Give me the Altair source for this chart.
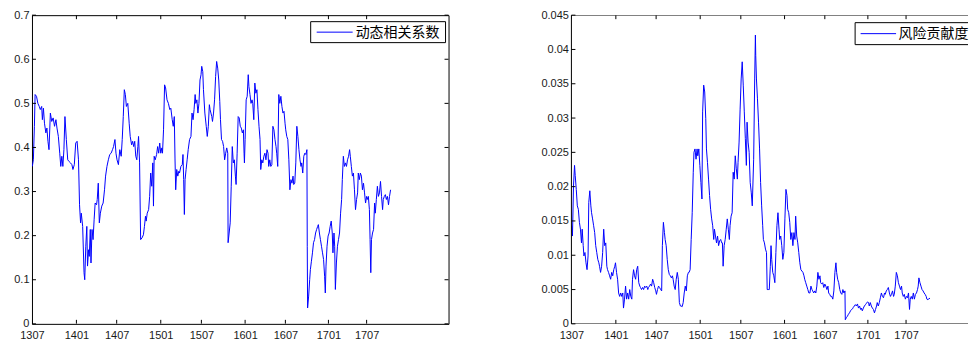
import altair as alt
import pandas as pd

# ---------------- data ----------------
SERIES_NAMES = ["动态相关系数", "风险贡献度"]
TICK_DAYS = [0, 128, 244, 371, 488, 614, 730, 854, 964]
TICK_LABELS = ["1307", "1401", "1407", "1501", "1507", "1601", "1607", "1701", "1707"]
X_MAX = 1200

LEFT_Y_TICKS = [0, 0.1, 0.2, 0.3, 0.4, 0.5, 0.6, 0.7]
RIGHT_Y_TICKS = [0, 0.005, 0.01, 0.015, 0.02, 0.025, 0.03, 0.035, 0.04, 0.045]

left_days = [1, 4, 7, 9, 13, 17, 21, 24, 28, 30, 33, 36, 40, 43, 46, 49, 53, 57, 61, 65, 69, 72, 76, 80, 83, 86, 89, 92, 95, 99,
             103, 107, 111, 115, 118, 122, 126, 130, 134, 137, 140, 142, 146, 150, 152, 155, 158, 160, 163, 165, 168, 170, 173, 176, 179, 182, 186, 188, 191, 194,
             197, 201, 205, 209, 212, 216, 220, 224, 228, 232, 235, 239, 242, 245, 249, 253, 257, 260, 263, 266, 269, 272, 276, 280, 283, 287, 290, 293, 296, 299,
             302, 305, 307, 310, 313, 317, 321, 324, 327, 329, 332, 336, 339, 342, 345, 348, 350, 352, 355, 359, 362, 365, 368, 371, 374, 376, 379, 382, 385, 389,
             393, 397, 400, 404, 407, 410, 412, 414, 417, 420, 423, 425, 429, 433, 435, 437, 439, 441, 444, 447, 450, 454, 458, 461, 464, 467, 470, 472, 475, 478,
             481, 484, 487, 489, 492, 494, 498, 502, 505, 508, 511,
             513, 518, 520, 523, 526, 529, 532, 535, 538, 541, 543, 546, 549, 552, 555, 558, 561, 564, 565, 568, 571, 574, 577, 580, 583, 586, 588, 591, 594, 597,
             600, 603, 606, 609, 611, 612, 614, 617, 620, 623, 625, 628, 631, 634, 636, 639, 642, 645, 648, 651, 654, 657, 659, 662, 665, 668, 671, 674, 677, 680,
             682, 685, 688, 691, 694, 697, 700, 703, 705, 708, 711, 714, 717, 720, 723, 726, 729, 731, 734, 737, 740, 743, 746, 749, 752, 754, 757, 760, 763, 766,
             769, 772, 775, 777, 780, 783, 786, 789, 792, 793, 794, 797, 800, 802, 805, 808, 811, 814, 817, 820, 823, 825, 828, 831, 834, 837, 840, 843, 845, 847,
             850, 853, 856, 859, 862, 865, 867, 870, 872, 874, 877, 880, 883, 886, 889, 892, 894, 897, 900, 903, 906, 909, 912, 915, 917, 920, 923, 926, 929, 932,
             935, 938, 940, 943, 946, 949, 952, 955, 958, 961, 964, 966, 969, 972, 974, 976, 978, 981, 984, 987, 989, 992, 995, 998, 1001, 1004, 1007, 1010, 1012, 1015,
             1018, 1021, 1024, 1027, 1030, 1033]
left_vals = [0.357, 0.372, 0.448, 0.520, 0.516, 0.500, 0.493, 0.486, 0.493, 0.463, 0.489, 0.455, 0.433, 0.444, 0.414, 0.395, 0.478, 0.459, 0.467, 0.448, 0.463, 0.444, 0.425, 0.387, 0.357, 0.380, 0.357, 0.395, 0.470, 0.418,
             0.372, 0.368, 0.365, 0.361, 0.350, 0.361, 0.410, 0.414, 0.372, 0.270, 0.229, 0.251, 0.221, 0.116, 0.100, 0.176, 0.221, 0.131, 0.168, 0.153, 0.214, 0.138, 0.214, 0.191, 0.236, 0.274, 0.270, 0.282, 0.319, 0.229,
             0.251, 0.267, 0.274, 0.304, 0.335, 0.357, 0.372, 0.384, 0.387, 0.395, 0.402, 0.418, 0.387, 0.372, 0.361, 0.395, 0.380, 0.418, 0.470, 0.531, 0.520, 0.493, 0.500, 0.455, 0.425, 0.406, 0.414, 0.402, 0.414, 0.380,
             0.372, 0.402, 0.425, 0.365, 0.191, 0.195, 0.202, 0.221, 0.244, 0.233, 0.251, 0.259, 0.289, 0.342, 0.312, 0.365, 0.267, 0.380, 0.372, 0.384, 0.402, 0.387, 0.410, 0.387, 0.399, 0.387, 0.440, 0.542, 0.535, 0.508,
             0.500, 0.486, 0.489, 0.463, 0.448, 0.470, 0.376, 0.304, 0.350, 0.335, 0.346, 0.342, 0.357, 0.361, 0.384, 0.327, 0.248, 0.327, 0.350, 0.372, 0.395, 0.418, 0.425, 0.478, 0.463, 0.486, 0.520, 0.500, 0.508, 0.478,
             0.500, 0.553, 0.565, 0.584, 0.572, 0.531, 0.478, 0.448, 0.425, 0.448, 0.497,
             0.486, 0.470, 0.459, 0.478, 0.508, 0.561, 0.595, 0.580, 0.553, 0.504, 0.463, 0.418, 0.414, 0.402, 0.372, 0.387, 0.399, 0.387, 0.184, 0.206, 0.229, 0.312, 0.402, 0.365, 0.372, 0.335, 0.316, 0.387, 0.470, 0.467,
             0.448, 0.444, 0.433, 0.440, 0.387, 0.365, 0.418, 0.508, 0.516, 0.565, 0.538, 0.520, 0.500, 0.508, 0.500, 0.463, 0.546, 0.523, 0.531, 0.486, 0.448, 0.418, 0.350, 0.372, 0.365, 0.380, 0.387, 0.372, 0.395, 0.387,
             0.357, 0.372, 0.357, 0.361, 0.448, 0.440, 0.418, 0.402, 0.387, 0.357, 0.520, 0.500, 0.516, 0.493, 0.478, 0.482, 0.455, 0.440, 0.425, 0.418, 0.372, 0.304, 0.327, 0.319, 0.335, 0.316, 0.319, 0.365, 0.448, 0.425,
             0.395, 0.372, 0.357, 0.365, 0.342, 0.380, 0.387, 0.384, 0.395, 0.176, 0.036, 0.063, 0.100, 0.123, 0.142, 0.161, 0.184, 0.191, 0.206, 0.214, 0.221, 0.225, 0.206, 0.191, 0.176, 0.161, 0.146, 0.108, 0.070, 0.131,
             0.176, 0.199, 0.206, 0.221, 0.233, 0.206, 0.161, 0.206, 0.176, 0.078, 0.138, 0.176, 0.191, 0.206, 0.251, 0.282, 0.327, 0.380, 0.357, 0.365, 0.357, 0.372, 0.380, 0.395, 0.380, 0.357, 0.335, 0.342, 0.304, 0.259,
             0.282, 0.297, 0.342, 0.327, 0.342, 0.335, 0.304, 0.319, 0.297, 0.274, 0.289, 0.282, 0.289, 0.259, 0.191, 0.116, 0.191, 0.206, 0.214, 0.274, 0.251, 0.282, 0.312, 0.289, 0.297, 0.323, 0.289, 0.259, 0.282, 0.289,
             0.293, 0.282, 0.289, 0.270, 0.289, 0.304]

right_days = [1, 3, 6, 9, 11, 14, 17, 20, 23, 26, 29, 31, 34, 36, 39, 42, 45, 48, 50, 53, 56, 58, 61, 64, 67, 70, 73, 76, 79, 81,
              84, 87, 90, 93, 96, 99, 102, 104, 107, 110, 113, 116, 119, 122, 125, 127, 130, 133, 136, 139, 142, 145, 148, 150, 153, 156, 159, 162, 165, 168,
              171, 174, 176, 179, 182, 185, 188, 191, 194, 197, 199, 202, 205, 208, 211, 214, 217, 220, 222, 225, 228, 231, 234, 237, 240, 243, 245, 248, 251, 254,
              257, 260, 262, 265, 268, 270, 273, 276, 279, 282, 285, 288, 291, 293, 296, 299, 302, 305, 308, 311, 314, 316, 319, 322, 325, 328, 331, 334, 337, 339,
              342, 345, 348, 351, 353, 356, 359, 362, 364, 367, 370, 373, 376, 378, 381, 384, 387, 389, 392, 395, 398, 401, 404, 407, 410, 412, 415, 418, 421, 424,
              427, 430, 433, 435, 437, 440, 443, 446, 449, 452, 455, 457, 460, 463, 466, 469, 472, 475, 478, 480, 483, 486, 489, 492, 495, 498, 501, 504, 506, 509,
              512, 515, 518, 521,
              525, 528, 530, 531, 533, 536, 539, 542, 545, 548, 551, 553, 556, 559, 562, 564, 567, 570, 573, 575, 577, 580, 583, 586, 589, 592, 595, 598, 600, 603,
              606, 609, 612, 615, 618, 621, 623, 626, 629, 632, 635, 638, 641, 644, 646, 649, 652, 655, 658, 661, 664, 667, 670, 672, 675, 678, 681, 684, 687, 690,
              693, 695, 698, 701, 704, 707, 710, 713, 716, 718, 721, 724, 727, 730, 733, 736, 739, 741, 744, 747, 750, 753, 756, 759, 762, 764, 767, 770, 773, 776,
              779, 782, 785, 788, 789, 792, 795, 798, 801, 804, 807, 810, 812, 815, 818, 821, 824, 827, 830, 833, 835, 838, 841, 844, 847, 850, 853, 856, 858, 861,
              864, 867, 870, 873, 876, 879, 881, 884, 887, 890, 893, 896, 899, 902, 904, 907, 910, 913, 916, 919, 922, 925, 928, 930, 933, 936, 939, 942, 945, 948,
              951, 953, 956, 959, 962, 965, 968, 971, 974, 976, 979, 982, 985, 988, 991, 994, 997, 999, 1001, 1004, 1007, 1010, 1013, 1016, 1019, 1022, 1024, 1027, 1030, 1033]
right_vals = [0.0143, 0.0128, 0.0201, 0.0231, 0.0216, 0.0196, 0.0172, 0.0167, 0.0148, 0.0138, 0.0118, 0.0138, 0.0114, 0.0099, 0.0104, 0.0089, 0.0079, 0.0099, 0.0177, 0.0194, 0.0172, 0.0162, 0.0153, 0.0143, 0.0133, 0.0114, 0.0104, 0.0094, 0.0089, 0.0084,
              0.0075, 0.0084, 0.0104, 0.0138, 0.0114, 0.0118, 0.0084, 0.0079, 0.0075, 0.0070, 0.0065, 0.0075, 0.0070, 0.0079, 0.0084, 0.0089, 0.0075, 0.0065, 0.0045, 0.0040, 0.0045, 0.0040, 0.0045, 0.0023, 0.0036, 0.0055, 0.0036, 0.0045, 0.0036, 0.0050,
              0.0040, 0.0036, 0.0065, 0.0079, 0.0070, 0.0065, 0.0079, 0.0084, 0.0060, 0.0055, 0.0053, 0.0050, 0.0053, 0.0050, 0.0055, 0.0053, 0.0055, 0.0050, 0.0053, 0.0055, 0.0058, 0.0055, 0.0065, 0.0060, 0.0053, 0.0048, 0.0043, 0.0050, 0.0055, 0.0053,
              0.0050, 0.0048, 0.0114, 0.0148, 0.0133, 0.0123, 0.0114, 0.0094, 0.0079, 0.0072, 0.0070, 0.0067, 0.0070, 0.0065, 0.0055, 0.0050, 0.0065, 0.0075, 0.0065, 0.0031, 0.0026, 0.0026, 0.0025, 0.0031, 0.0045, 0.0055, 0.0048, 0.0070, 0.0075, 0.0075,
              0.0079, 0.0123, 0.0162, 0.0221, 0.0250, 0.0255, 0.0240, 0.0255, 0.0245, 0.0255, 0.0231, 0.0206, 0.0182, 0.0309, 0.0348, 0.0338, 0.0299, 0.0255, 0.0235, 0.0211, 0.0187, 0.0167, 0.0153, 0.0143, 0.0123, 0.0138, 0.0128, 0.0118, 0.0128, 0.0114,
              0.0121, 0.0123, 0.0118, 0.0118, 0.0084, 0.0114, 0.0123, 0.0138, 0.0153, 0.0138, 0.0123, 0.0143, 0.0157, 0.0162, 0.0221, 0.0211, 0.0245, 0.0226, 0.0211, 0.0235, 0.0265, 0.0313, 0.0357, 0.0382, 0.0348, 0.0309, 0.0270, 0.0231, 0.0294, 0.0265,
              0.0250, 0.0206, 0.0192, 0.0172,
              0.0240, 0.0357, 0.0421, 0.0391, 0.0357, 0.0328, 0.0294, 0.0255, 0.0206, 0.0172, 0.0143, 0.0123, 0.0118, 0.0109, 0.0104, 0.0050, 0.0050, 0.0050, 0.0084, 0.0114, 0.0094, 0.0075, 0.0070, 0.0060, 0.0104, 0.0143, 0.0162, 0.0138, 0.0123, 0.0128,
              0.0114, 0.0094, 0.0104, 0.0153, 0.0196, 0.0187, 0.0167, 0.0162, 0.0148, 0.0123, 0.0133, 0.0114, 0.0133, 0.0123, 0.0157, 0.0128, 0.0118, 0.0104, 0.0089, 0.0079, 0.0077, 0.0075, 0.0070, 0.0065, 0.0060, 0.0055, 0.0050, 0.0045, 0.0045, 0.0055,
              0.0050, 0.0048, 0.0045, 0.0048, 0.0045, 0.0055, 0.0075, 0.0065, 0.0070, 0.0060, 0.0058, 0.0060, 0.0053, 0.0058, 0.0055, 0.0050, 0.0055, 0.0045, 0.0043, 0.0040, 0.0040, 0.0036, 0.0048, 0.0075, 0.0089, 0.0075, 0.0065, 0.0060, 0.0050, 0.0045,
              0.0043, 0.0050, 0.0045, 0.0048, 0.0006, 0.0009, 0.0011, 0.0014, 0.0016, 0.0019, 0.0021, 0.0022, 0.0024, 0.0026, 0.0028, 0.0026, 0.0029, 0.0023, 0.0026, 0.0021, 0.0023, 0.0019, 0.0023, 0.0026, 0.0028, 0.0030, 0.0032, 0.0031, 0.0026, 0.0031,
              0.0026, 0.0023, 0.0021, 0.0016, 0.0021, 0.0026, 0.0031, 0.0026, 0.0031, 0.0038, 0.0045, 0.0040, 0.0038, 0.0045, 0.0043, 0.0048, 0.0050, 0.0053, 0.0045, 0.0040, 0.0043, 0.0048, 0.0040, 0.0043, 0.0055, 0.0075, 0.0070, 0.0060, 0.0055, 0.0050,
              0.0055, 0.0045, 0.0040, 0.0043, 0.0036, 0.0040, 0.0038, 0.0045, 0.0021, 0.0036, 0.0040, 0.0036, 0.0045, 0.0036, 0.0043, 0.0045, 0.0050, 0.0055, 0.0067, 0.0060, 0.0055, 0.0050, 0.0048, 0.0045, 0.0043, 0.0040, 0.0036, 0.0035, 0.0037, 0.0037]

# ---------------- layout / style ----------------
W, H = 417, 309
RIGHT_W = 397                      # right panel is cut by the window edge
LINE_COLOR = "#0000ff"
TICK_LEN = 4
LABEL_FONT = "Liberation Sans"
CJK_FONT = "Noto Sans CJK SC"

labels_js = "[" + ",".join("'%s'" % s for s in TICK_LABELS) + "]"
ticks_js = "[" + ",".join(str(t) for t in TICK_DAYS) + "]"
x_label_expr = "%s[indexof(%s, datum.value)]" % (labels_js, ticks_js)


def panel(days, vals, y_ticks, name, width, x_max, y_extent, legend, open_right):
    x_scale = alt.Scale(domain=[0, x_max], nice=False, zero=False)
    y_scale = alt.Scale(domain=[0, y_ticks[-1]], nice=False, zero=False)
    x_axis = alt.Axis(values=TICK_DAYS, labelExpr=x_label_expr, title=None,
                      labelFlush=False, labelOverlap=False, labelPadding=6,
                      tickSize=0, ticks=False, domain=False, grid=False)
    y_axis = alt.Axis(values=y_ticks, format="~g", title=None,
                      labelPadding=3, tickSize=0, ticks=False, domain=False, grid=False,
                      labelFlush=False, labelOverlap=False,
                      minExtent=y_extent, maxExtent=y_extent)
    xe = alt.X("day:Q", scale=x_scale, axis=x_axis)
    ye = alt.Y("val:Q", scale=y_scale, axis=y_axis)

    df = pd.DataFrame({"day": days, "val": vals})
    layers = [alt.Chart(df).mark_line(color=LINE_COLOR, strokeWidth=1, clip=True).encode(x=xe, y=ye)]

    xt = pd.DataFrame({"day": TICK_DAYS})
    yt = pd.DataFrame({"val": y_ticks})
    tick_style = dict(color="black", strokeWidth=1)
    layers.append(alt.Chart(xt).mark_rule(clip=True, **tick_style).encode(
        x=xe, y=alt.value(H), y2=alt.value(H - TICK_LEN)))
    layers.append(alt.Chart(xt).mark_rule(clip=True, **tick_style).encode(
        x=xe, y=alt.value(0), y2=alt.value(TICK_LEN)))
    layers.append(alt.Chart(yt).mark_rule(**tick_style).encode(
        y=ye, x=alt.value(0), x2=alt.value(TICK_LEN)))

    ld = pd.DataFrame({"name": [name]})
    if open_right:
        # frame drawn by hand: top, bottom, left (right edge lies outside the window)
        layers.append(alt.Chart(ld).mark_rule(clip=True, **tick_style).encode(
            x=alt.value(0), x2=alt.value(width), y=alt.value(0)))
        layers.append(alt.Chart(ld).mark_rule(clip=True, **tick_style).encode(
            x=alt.value(0), x2=alt.value(width), y=alt.value(H)))
        layers.append(alt.Chart(ld).mark_rule(**tick_style).encode(
            x=alt.value(0), y=alt.value(0), y2=alt.value(H)))
    else:
        layers.append(alt.Chart(yt).mark_rule(**tick_style).encode(
            y=ye, x=alt.value(width), x2=alt.value(width - TICK_LEN)))

    bx0, bx1, by0, by1, lx0, lx1, tx = legend
    ly = (by0 + by1) / 2
    layers.append(alt.Chart(ld).mark_rect(fill="white", stroke="black", strokeWidth=1, clip=True).encode(
        x=alt.value(bx0), x2=alt.value(bx1), y=alt.value(by0), y2=alt.value(by1)))
    layers.append(alt.Chart(ld).mark_rule(color=LINE_COLOR, strokeWidth=1).encode(
        x=alt.value(lx0), x2=alt.value(lx1), y=alt.value(ly)))
    layers.append(alt.Chart(ld).mark_text(align="left", baseline="middle", font=CJK_FONT,
                                          fontSize=14, color="black").encode(
        x=alt.value(tx), y=alt.value(ly + 0.5), text="name:N"))

    ch = alt.layer(*layers).properties(width=width, height=H)
    if open_right:
        ch = ch.properties(view=alt.ViewBackground(stroke=None))
    return ch


left = panel(left_days, left_vals, LEFT_Y_TICKS, SERIES_NAMES[0], W, X_MAX, 18.5,
             (279, 414, 6.5, 27.5, 285, 321, 324), False)
right = panel(right_days, right_vals, RIGHT_Y_TICKS, SERIES_NAMES[1], RIGHT_W,
              X_MAX * RIGHT_W / W, 31, (284, 420, 7.5, 29.5, 289.5, 325, 327.5), True)

chart = alt.hconcat(left, right, spacing=91).properties(
    padding={"left": 5, "top": 0, "right": 0, "bottom": 0}
).configure_view(stroke="black", strokeWidth=1).configure_axis(
    labelFont=LABEL_FONT, labelFontSize=11, labelColor="#1a1a1a"
)

chart.save("out.html", embed_options={"renderer": "svg", "actions": False})
